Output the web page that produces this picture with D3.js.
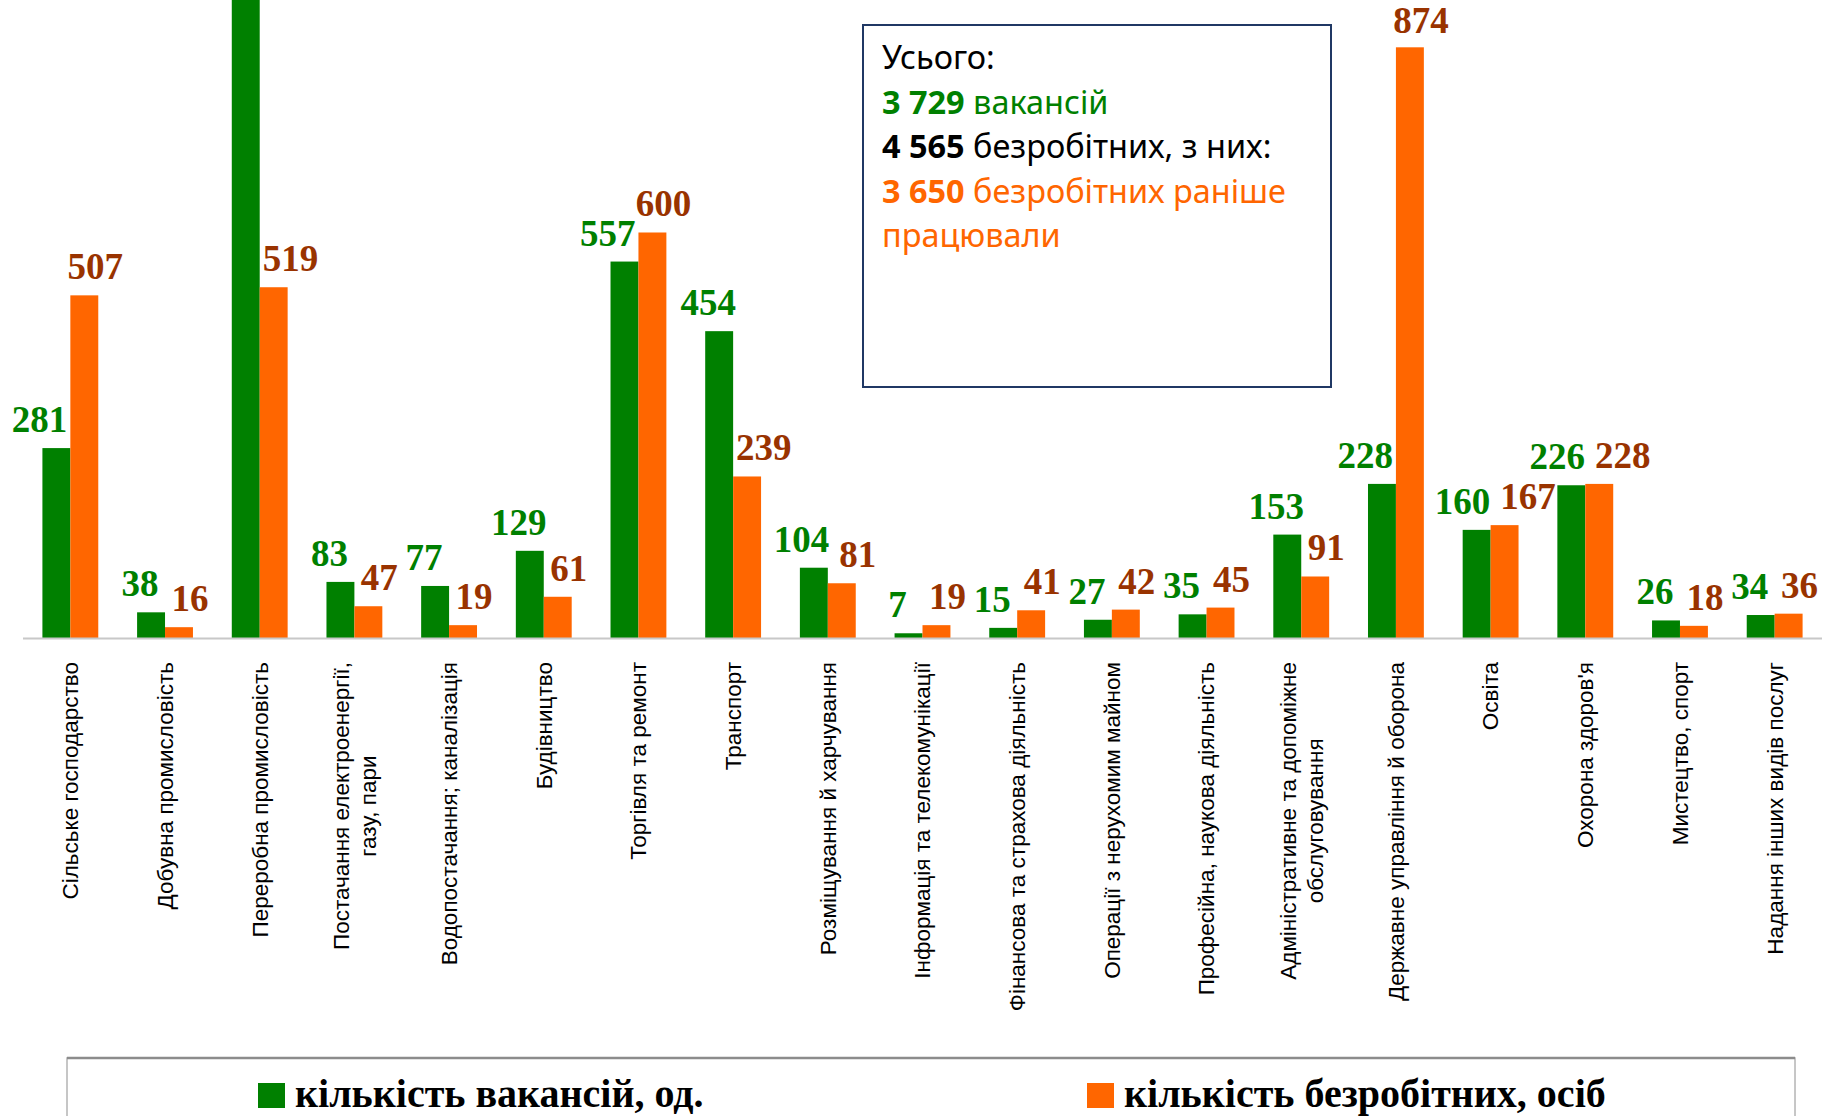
<!DOCTYPE html>
<html>
<head>
<meta charset="utf-8">
<script src="https://cdn.jsdelivr.net/npm/d3@7"></script>
<style>
  body { margin: 0; background: #fff; }
  svg { display: block; }
</style>
</head>
<body>
<svg width="1833" height="1116"></svg>
<script>
const categories = [
  "Сільське господарство",
  "Добувна промисловість",
  "Переробна промисловість",
  "Постачання електроенергії,\nгазу, пари",
  "Водопостачання; каналізація",
  "Будівництво",
  "Торгівля та ремонт",
  "Транспорт",
  "Розміщування й харчування",
  "Інформація та телекомунікації",
  "Фінансова та страхова діяльність",
  "Операції з нерухомим майном",
  "Професійна, наукова діяльність",
  "Адміністративне та допоміжне\nобслуговування",
  "Державне управління й оборона",
  "Освіта",
  "Охорона здоров'я",
  "Мистецтво, спорт",
  "Надання інших видів послуг"
];
const vacancies = [281, 38, 1095, 83, 77, 129, 557, 454, 104, 7, 15, 27, 35, 153, 228, 160, 226, 26, 34];
const unemployed = [507, 16, 519, 47, 19, 61, 600, 239, 81, 19, 41, 42, 45, 91, 874, 167, 228, 18, 36];
const seriesNames = ["кількість вакансій, од.", "кількість безробітних, осіб"];
const summaryLines = [
  [{ t: "Усього:", b: false, c: "#000" }],
  [{ t: "3 729", b: true, c: "#008000" }, { t: " вакансій", b: false, c: "#008000" }],
  [{ t: "4 565", b: true, c: "#000" }, { t: " безробітних, з них:", b: false, c: "#000" }],
  [{ t: "3 650", b: true, c: "#FF6600" }, { t: " безробітних раніше", b: false, c: "#FF6600" }],
  [{ t: "працювали", b: false, c: "#FF6600" }]
];

const svg = d3.select("svg");
const barColors = ["#008000", "#FF6600"];
const labelColors = ["#008000", "#993300"];
const axisY = 638;

const rows = categories.map((c, i) => ({ cat: c, values: [vacancies[i], unemployed[i]] }));

const x = d3.scaleBand()
  .domain(categories)
  .range([23, 1822])
  .paddingInner(0.41)
  .paddingOuter(0.205);

const xSub = d3.scaleBand()
  .domain([0, 1])
  .range([0, x.bandwidth()]);

const y = d3.scaleLinear()
  .domain([0, 944])
  .range([axisY, 0]);

// bars
const group = svg.append("g")
  .attr("class", "bars")
  .selectAll("g")
  .data(rows)
  .enter()
  .append("g")
  .attr("transform", d => `translate(${x(d.cat)},0)`);

group.selectAll("rect")
  .data(d => d.values.map((v, k) => ({ v, k })))
  .enter()
  .append("rect")
  .attr("x", d => xSub(d.k))
  .attr("width", xSub.bandwidth())
  .attr("y", d => y(d.v))
  .attr("height", d => axisY - y(d.v))
  .attr("fill", d => barColors[d.k]);

// value labels (the one above the top edge is not shown, as in the source)
const labelFont = 37;
const labelGap = 16;
group.each(function (d) {
  const g = d3.select(this);
  const bw = xSub.bandwidth();
  const labels = d.values.map((v, k) => {
    if (y(v) < 40) return null;
    const t = g.append("text")
      .attr("y", Math.max(y(v) - labelGap, labelFont * 0.9))
      .attr("text-anchor", "middle")
      .attr("font-family", "'Liberation Serif', 'Times New Roman', serif")
      .attr("font-weight", "bold")
      .attr("font-size", labelFont)
      .attr("fill", labelColors[k])
      .text(v);
    const w = t.node().getComputedTextLength();
    let cx = xSub(k) + bw / 2 + (k === 0 ? -11 : 11);
    // keep clear of the neighbouring bar when it is taller than the label
    const other = d.values[1 - k];
    if (y(other) < y(v) - labelGap) {
      if (k === 0) cx = Math.min(cx, xSub(1) - 3 - w / 2);
      else cx = Math.max(cx, xSub(1) + 3 + w / 2);
    }
    return { t, k, v, w, cx };
  });
  // push the pair apart when they collide
  const [a, b] = labels;
  if (a && b && Math.abs(y(a.v) - y(b.v)) < labelFont * 0.7) {
    const overlap = (a.cx + a.w / 2 + 10) - (b.cx - b.w / 2);
    if (overlap > 0) {
      a.cx -= overlap * 0.2;
      b.cx += overlap * 0.8;
    }
  }
  labels.forEach(l => l && l.t.attr("x", l.cx));
});

// axis line
svg.append("line")
  .attr("x1", 23)
  .attr("x2", 1822)
  .attr("y1", axisY + 0.5)
  .attr("y2", axisY + 0.5)
  .attr("stroke", "#c8c8c8")
  .attr("stroke-width", 2);

// category labels
const labelTop = 662;
const lineGap = 27;
const catLabels = svg.append("g")
  .attr("class", "cat-labels")
  .attr("font-family", "'Liberation Sans', Arial, sans-serif")
  .attr("font-size", 22.5)
  .attr("fill", "#000");

categories.forEach(c => {
  const lines = c.split("\n");
  const cx = x(c) + x.bandwidth() / 2;
  const texts = lines.map((line, k) => {
    const lx = cx + (k - (lines.length - 1) / 2) * lineGap;
    return catLabels.append("text")
      .attr("text-anchor", "middle")
      .attr("dy", "0.35em")
      .attr("data-x", lx)
      .text(line);
  });
  const maxLen = d3.max(texts, t => t.node().getComputedTextLength());
  texts.forEach(t => {
    const lx = +t.attr("data-x");
    const ly = labelTop + maxLen / 2;
    t.attr("transform", `translate(${lx},${ly}) rotate(-90)`).attr("data-x", null);
  });
});

// summary box
svg.append("rect")
  .attr("x", 863)
  .attr("y", 25)
  .attr("width", 468)
  .attr("height", 362)
  .attr("fill", "#fff")
  .attr("stroke", "#203864")
  .attr("stroke-width", 2);

const summary = svg.append("g")
  .attr("font-family", "'Noto Sans', 'Open Sans', sans-serif");

const summaryTexts = summaryLines.map((parts, i) => {
  const t = summary.append("text")
    .attr("x", 882)
    .attr("y", 69 + i * 44.5);
  parts.forEach(p => {
    t.append("tspan")
      .attr("font-weight", p.b ? "bold" : "normal")
      .attr("fill", p.c)
      .text(p.t);
  });
  return t;
});
summary.attr("font-size", 30);
const fitWidth = summaryTexts[3].node().getComputedTextLength();
summary.attr("font-size", 30 * 404 / fitWidth);

// legend
svg.append("rect")
  .attr("x", 67)
  .attr("y", 1058)
  .attr("width", 1728)
  .attr("height", 100)
  .attr("fill", "#fff")
  .attr("stroke", "#b4b4b4")
  .attr("stroke-width", 1.5);

svg.append("line")
  .attr("x1", 67)
  .attr("x2", 1795)
  .attr("y1", 1058)
  .attr("y2", 1058)
  .attr("stroke", "#8c8c8c")
  .attr("stroke-width", 2.5);

const legendX = [258, 1087];
const legend = svg.append("g")
  .selectAll("g")
  .data(seriesNames)
  .enter()
  .append("g")
  .attr("transform", (d, i) => `translate(${legendX[i]},1083)`);

legend.append("rect")
  .attr("width", 27)
  .attr("height", 25)
  .attr("fill", (d, i) => barColors[i]);

legend.append("text")
  .attr("x", 37)
  .attr("y", 24)
  .attr("font-family", "'Liberation Serif', 'Times New Roman', serif")
  .attr("font-weight", "bold")
  .attr("font-size", 40)
  .attr("fill", "#000")
  .text(d => d);
</script>
</body>
</html>
